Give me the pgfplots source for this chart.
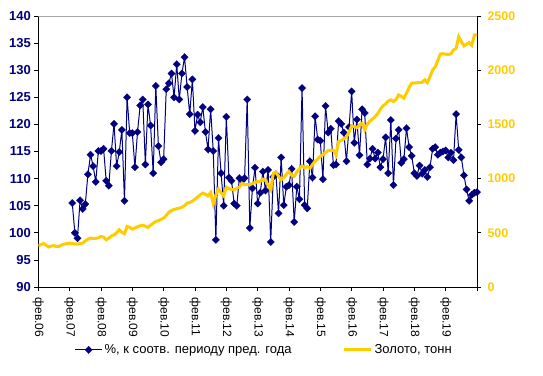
\documentclass[border=0pt]{standalone}
\usepackage{pgfplots}
\pgfplotsset{compat=1.18}
\usepackage{fontspec}
\setmainfont{Liberation Sans}
\definecolor{navyb}{HTML}{000080}
\definecolor{goldc}{HTML}{FFCC00}
\begin{document}
\begin{tikzpicture}[x=1pt,y=1pt]
\useasboundingbox (0,0) rectangle (543,375);
\begin{axis}[
  at={(38.3pt,88pt)}, anchor=south west,
  width=438.7pt, height=271pt, scale only axis,
  xmin=0, xmax=168, ymin=90, ymax=140,
  axis x line*=bottom, axis y line*=left,
  axis line style={black, line width=0.8pt},
  tick style={black, line width=0.8pt},
  major tick length=4pt, tick align=outside,
  xtick={0,12,...,168},
  xticklabels={фев.06,фев.07,фев.08,фев.09,фев.10,фев.11,фев.12,фев.13,фев.14,фев.15,фев.16,фев.17,фев.18,фев.19,{}},
  xticklabel style={yshift=-3pt, rotate=-90, anchor=west, font=\fontsize{12}{12}\selectfont},
  ytick={90,95,...,140},
  yticklabel style={font=\bfseries\fontsize{13}{13}\selectfont, text=navyb},
  /pgf/number format/assume math mode=true,
  legend columns=2,
  legend style={at={(0.5,-0.232)}, anchor=center, xshift=6.5pt, draw=none, fill=none,
    font=\fontsize{13}{13}\selectfont,
    /tikz/every even column/.append style={column sep=49pt}},
  legend cell align=left,
  legend image code/.code={\draw[mark repeat=2, mark phase=2, #1] plot coordinates {(0pt,0pt) (13.5pt,0pt) (27pt,0pt)};},
]
\draw[gray!70, line width=0.8pt] (rel axis cs:0,1) -- (rel axis cs:1,1);
\addplot[color=navyb, line width=1pt, mark=square*, mark size=2.6pt, mark options={rotate=45, fill=navyb, draw=navyb, line width=0.2pt}] coordinates {
(13,105.5)(14,100.0)(15,99.0)(16,106.0)(17,104.4)(18,105.3)(19,110.8)(20,114.4)(21,112.3)(22,109.4)
(23,115.1)(24,115.1)(25,115.5)(26,109.6)(27,108.7)(28,115.1)(29,120.1)(30,112.3)(31,114.9)(32,119.0)
(33,105.9)(34,125.0)(35,118.4)(36,118.4)(37,112.1)(38,118.6)(39,123.5)(40,124.6)(41,112.6)(42,123.7)
(43,119.8)(44,111.0)(45,127.1)(46,116.0)(47,113.0)(48,113.6)(49,126.5)(50,127.6)(51,129.4)(52,125.0)
(53,131.1)(54,124.6)(55,129.4)(56,132.4)(57,126.9)(58,121.9)(59,128.3)(60,118.8)(61,121.8)(62,120.4)
(63,123.2)(64,118.6)(65,115.4)(66,122.8)(67,115.1)(68,98.7)(69,117.5)(70,111.0)(71,105.0)(72,121.4)
(73,110.2)(74,109.6)(75,105.4)(76,105.0)(77,110.1)(78,109.6)(79,110.1)(80,124.6)(81,100.9)(82,108.2)
(83,112.0)(84,105.4)(85,107.4)(86,111.3)(87,107.8)(88,111.6)(89,98.3)(90,110.3)(91,110.8)(92,103.6)
(93,113.9)(94,105.1)(95,108.5)(96,108.8)(97,111.8)(98,102.0)(99,108.5)(100,106.2)(101,126.7)(102,105.1)
(103,104.5)(104,113.2)(105,110.2)(106,121.5)(107,117.2)(108,117.0)(109,109.9)(110,123.4)(111,118.5)(112,119.2)
(113,112.5)(114,112.6)(115,120.6)(116,120.1)(117,118.5)(118,113.2)(119,119.5)(120,126.1)(121,116.6)(122,120.9)
(123,114.3)(124,122.8)(125,122.1)(126,112.6)(127,113.7)(128,115.5)(129,113.7)(130,114.8)(131,112.1)(132,113.6)
(133,117.6)(134,111.0)(135,120.8)(136,108.8)(137,117.4)(138,119.0)(139,112.9)(140,113.6)(141,119.3)(142,115.8)
(143,114.2)(144,111.0)(145,110.5)(146,112.4)(147,110.9)(148,111.6)(149,110.3)(150,112.1)(151,115.5)(152,115.8)
(153,114.4)(154,114.8)(155,115.0)(156,115.2)(157,113.9)(158,114.8)(159,113.4)(160,121.9)(161,115.3)(162,113.9)
(163,110.6)(164,108.0)(165,105.9)(166,107.0)(167,107.4)(168,107.5)
};
\addlegendentry{\%, к соотв. периоду пред. года}
\addlegendimage{color=goldc, line width=3pt}
\addlegendentry{Золото, тонн}
\end{axis}
\begin{axis}[
  at={(38.3pt,88pt)}, anchor=south west,
  width=438.7pt, height=271pt, scale only axis,
  xmin=0, xmax=168, ymin=0, ymax=2500,
  axis x line=none, axis y line*=right,
  axis line style={black, line width=0.8pt},
  tick style={black, line width=0.8pt},
  major tick length=4pt, tick align=outside,
  ytick={0,500,...,2500},
  yticklabel style={font=\bfseries\fontsize{12.5}{12.5}\selectfont, text=goldc, xshift=3pt},
  /pgf/number format/assume math mode=true,
  /pgf/number format/1000 sep={},
]
\addplot[color=goldc, line width=3pt, mark=none] coordinates {
(0,381)(1,390)(2,402)(3,385)(4,369)(5,378)(6,381)(7,372)(8,375)(9,388)(10,396)(11,400)(12,405)(13,400)
(15,396)(16,400)(17,405)(18,425)(19,442)(20,450)(22,448)(23,455)(24,467)(25,460)(26,436)(27,450)(28,470)
(29,482)(30,500)(31,528)(32,505)(33,491)(34,559)(35,550)(36,534)(37,545)(39,565)(40,570)(42,550)(43,570)
(45,605)(46,612)(48,636)(49,660)(50,690)(51,706)(52,715)(54,728)(55,735)(56,750)(57,774)(58,780)(59,792)
(60,810)(61,829)(62,850)(63,866)(64,855)(65,841)(66,872)(67,768)(68,850)(69,903)(70,870)(71,841)(72,921)
(73,905)(75,897)(76,910)(77,921)(78,958)(79,945)(81,943)(82,955)(84,974)(85,975)(86,995)(87,985)(88,940)
(89,897)(90,1050)(91,1057)(92,1020)(93,989)(94,1010)(95,1040)(96,1066)(97,1030)(98,1020)(99,1060)(100,1090)
(101,1118)(102,1100)(103,1110)(104,1096)(105,1130)(106,1160)(107,1180)(108,1204)(109,1220)(110,1240)
(111,1259)(112,1260)(113,1262)(114,1219)(115,1342)(116,1350)(117,1365)(118,1382)(119,1430)(120,1487)
(121,1480)(122,1471)(123,1495)(124,1511)(125,1450)(126,1505)(127,1530)(128,1550)(129,1572)(130,1600)
(131,1640)(132,1671)(133,1690)(134,1715)(135,1726)(136,1711)(137,1730)(138,1772)(139,1760)(140,1741)
(141,1790)(142,1840)(143,1880)(144,1882)(146,1886)(147,1888)(148,1911)(149,1886)(150,1940)(151,2002)
(152,2030)(153,2090)(154,2150)(155,2152)(156,2148)(157,2145)(158,2150)(159,2187)(160,2200)(161,2310)
(162,2264)(163,2224)(164,2240)(165,2255)(166,2230)(167,2325)(168,2325)
};
\end{axis}
\end{tikzpicture}
\end{document}
